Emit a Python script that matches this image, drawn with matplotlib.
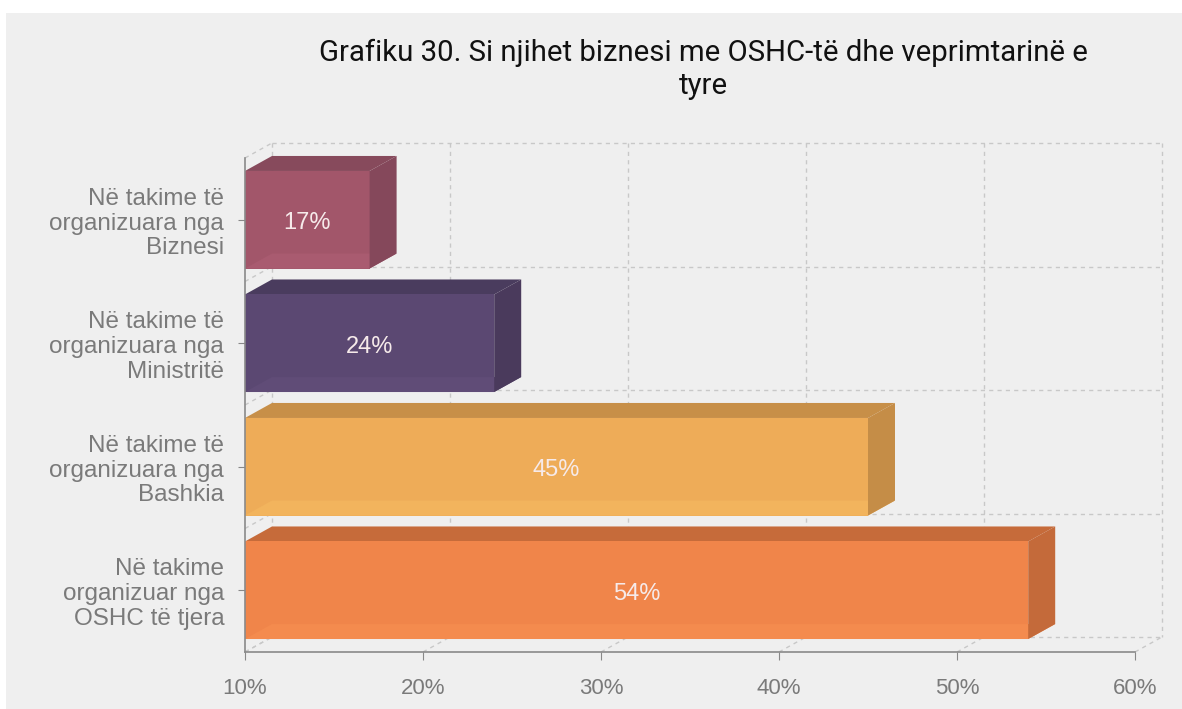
import matplotlib
matplotlib.use("Agg")
import matplotlib.pyplot as plt
from matplotlib.patches import Polygon, Rectangle

categories = ["Në takime të\norganizuara nga\nBiznesi",
              "Në takime të\norganizuara nga\nMinistritë",
              "Në takime të\norganizuara nga\nBashkia",
              "Në takime\norganizuar nga\nOSHC të tjera"]
values = [17, 24, 45, 54]
value_labels = ["17%", "24%", "45%", "54%"]
xticks = [10, 20, 30, 40, 50, 60]
xtick_labels = ["10%", "20%", "30%", "40%", "50%", "60%"]
title_lines = ["Grafiku 30. Si njihet biznesi me OSHC-të dhe veprimtarinë e", "tyre"]

front_cols = ["#a2566a", "#5b4872", "#eeac58", "#f0854a"]
top_cols = ["#874a5c", "#4a3c5e", "#c78f48", "#c66b3a"]
side_cols = ["#85485b", "#4a3a5c", "#c58d47", "#c46a3a"]
strip_cols = ["#a95b70", "#604c77", "#f2b45d", "#f48b4e"]

plt.rcParams['font.family'] = ['Liberation Sans', 'DejaVu Sans']

W, H = 1182, 709
fig = plt.figure(figsize=(W / 100, H / 100), dpi=100)
fig.patch.set_facecolor("white")
fig.patches.append(Rectangle((6 / W, -0.02), 1.05, (H - 13) / H + 0.02, transform=fig.transFigure,
                             facecolor="#efefef", edgecolor="none", zorder=-10))

left, right, top, bottom = 245, 1135, 158, 652
ax = fig.add_axes([left / W, (H - bottom) / H, (right - left) / W, (bottom - top) / H])
ax.set_facecolor("none")
xmin, xmax = 10, 60
n = len(categories)
ax.set_xlim(xmin, xmax)
ax.set_ylim(n - 0.5, -0.5)

# depth offsets in data units
dx = 27 / ((right - left) / (xmax - xmin))
dy = -15 / ((bottom - top) / n)

grid_kw = dict(color="#c8c8c8", lw=1, ls=(0, (3, 3)), clip_on=False, zorder=1)
# back wall, floor and left wall guides
for xt in xticks:
    ax.plot([xt + dx, xt + dx], [-0.5 + dy, n - 0.5 + dy], **grid_kw)
    ax.plot([xt, xt + dx], [n - 0.5, n - 0.5 + dy], **grid_kw)
for k in range(n + 1):
    yb = k - 0.5
    ax.plot([xmin + dx, xmax + dx], [yb + dy, yb + dy], **grid_kw)
    ax.plot([xmin, xmin + dx], [yb, yb + dy], **grid_kw)

h = 0.79
for i, v in enumerate(values):
    t, b = i - h / 2, i + h / 2
    ax.add_patch(Polygon([(xmin, t), (v, t), (v + dx, t + dy), (xmin + dx, t + dy)],
                         closed=True, facecolor=top_cols[i], edgecolor="none", zorder=3, clip_on=False))
    ax.add_patch(Rectangle((xmin, t), v - xmin, h, facecolor=front_cols[i],
                           edgecolor="none", zorder=3, clip_on=False))
    ax.add_patch(Polygon([(xmin, b), (v, b), (v + dx, b + dy), (xmin + dx, b + dy)],
                         closed=True, facecolor=strip_cols[i], edgecolor="none", zorder=3.5, clip_on=False))
    ax.add_patch(Polygon([(v, t), (v, b), (v + dx, b + dy), (v + dx, t + dy)],
                         closed=True, facecolor=side_cols[i], edgecolor="none", zorder=4, clip_on=False))
    ax.text((xmin + v) / 2, i + 0.03, value_labels[i], ha="center", va="center",
            color="#f6eaea", fontsize=17, zorder=5)

ax.set_yticks(range(n))
ax.set_yticklabels(categories, fontsize=17.5, color="#7a7a7a", ha="right", linespacing=1.15)
ax.set_xticks(xticks)
ax.set_xticklabels(xtick_labels, fontsize=16, color="#7a7a7a")
ax.tick_params(axis="y", length=5, color="#888888", pad=10)
ax.tick_params(axis="x", length=6, color="#888888", pad=13)
for s in ["top", "right"]:
    ax.spines[s].set_visible(False)
for s in ["left", "bottom"]:
    ax.spines[s].set_color("#8a8a8a")
    ax.spines[s].set_linewidth(1.2)
    ax.spines[s].set_zorder(6)

for line, base in zip(title_lines, [61, 94]):
    fig.text(703 / W, 1 - base / H, line, ha="center", va="baseline", fontsize=21.2,
             family=["Roboto", "DejaVu Sans"], color="#111111")

fig.savefig("out.png", dpi=100, facecolor=fig.get_facecolor())
